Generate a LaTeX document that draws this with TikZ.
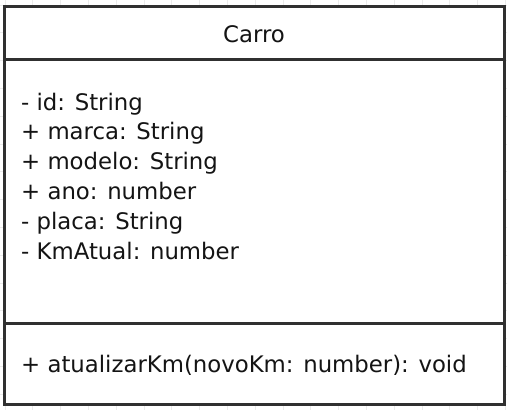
\documentclass[tikz,border=0pt]{standalone}
\usepackage{fontspec}
\setmainfont{DejaVu Sans}
\definecolor{gridgray}{HTML}{EBEBEB}
\definecolor{framegray}{HTML}{303030}
\definecolor{inkblack}{HTML}{141414}
\tikzset{
  gridline/.style={draw=gridgray, line width=0.8pt},
  frame/.style={draw=framegray, line width=3pt, fill=white},
  divider/.style={draw=framegray, line width=3pt},
  member/.style={anchor=base west, inner sep=0pt, text=inkblack,
    font=\fontsize{22.8}{28}\selectfont},
  title/.style={anchor=base, inner sep=0pt, text=inkblack,
    font=\fontsize{22.8}{28}\selectfont},
}
\begin{document}
\begin{tikzpicture}[x=1pt, y=-1pt]
  \useasboundingbox (0,0) rectangle (507,410);
  \fill[white] (0,0) rectangle (507,410);
  % background grid
  \foreach \k in {0,...,18} {
    \draw[gridline] ({5+27.8*\k},0) -- ({5+27.8*\k},410);
  }
  \foreach \k in {0,...,15} {
    \draw[gridline] (0,{5+27.8*\k}) -- (507,{5+27.8*\k});
  }
  % class box with its three compartments
  \coordinate (tl) at (4.5,6);
  \coordinate (br) at (504,404);
  \draw[frame] (tl) rectangle (br);
  \coordinate (h1) at (4.5,59);
  \coordinate (h2) at (504,59);
  \coordinate (m1) at (4.5,323);
  \coordinate (m2) at (504,323);
  \draw[divider] (h1) -- (h2);
  \draw[divider] (m1) -- (m2);
  % class name
  \node[title] (name) at (254,42) {Carro};
  % attributes
  \node[member] (a1) at (21,110) {- id: String};
  \node[member] (a2) at (21,139.8) {+ marca: String};
  \node[member] (a3) at (21,169.6) {+ modelo: String};
  \node[member] (a4) at (21,199.4) {+ ano: number};
  \node[member] (a5) at (21,229.2) {- placa: String};
  \node[member] (a6) at (21,259) {- KmAtual: number};
  % operations
  \node[member] (op1) at (21,372) {+ atualizarKm(novoKm: number): void};
\end{tikzpicture}
\end{document}
